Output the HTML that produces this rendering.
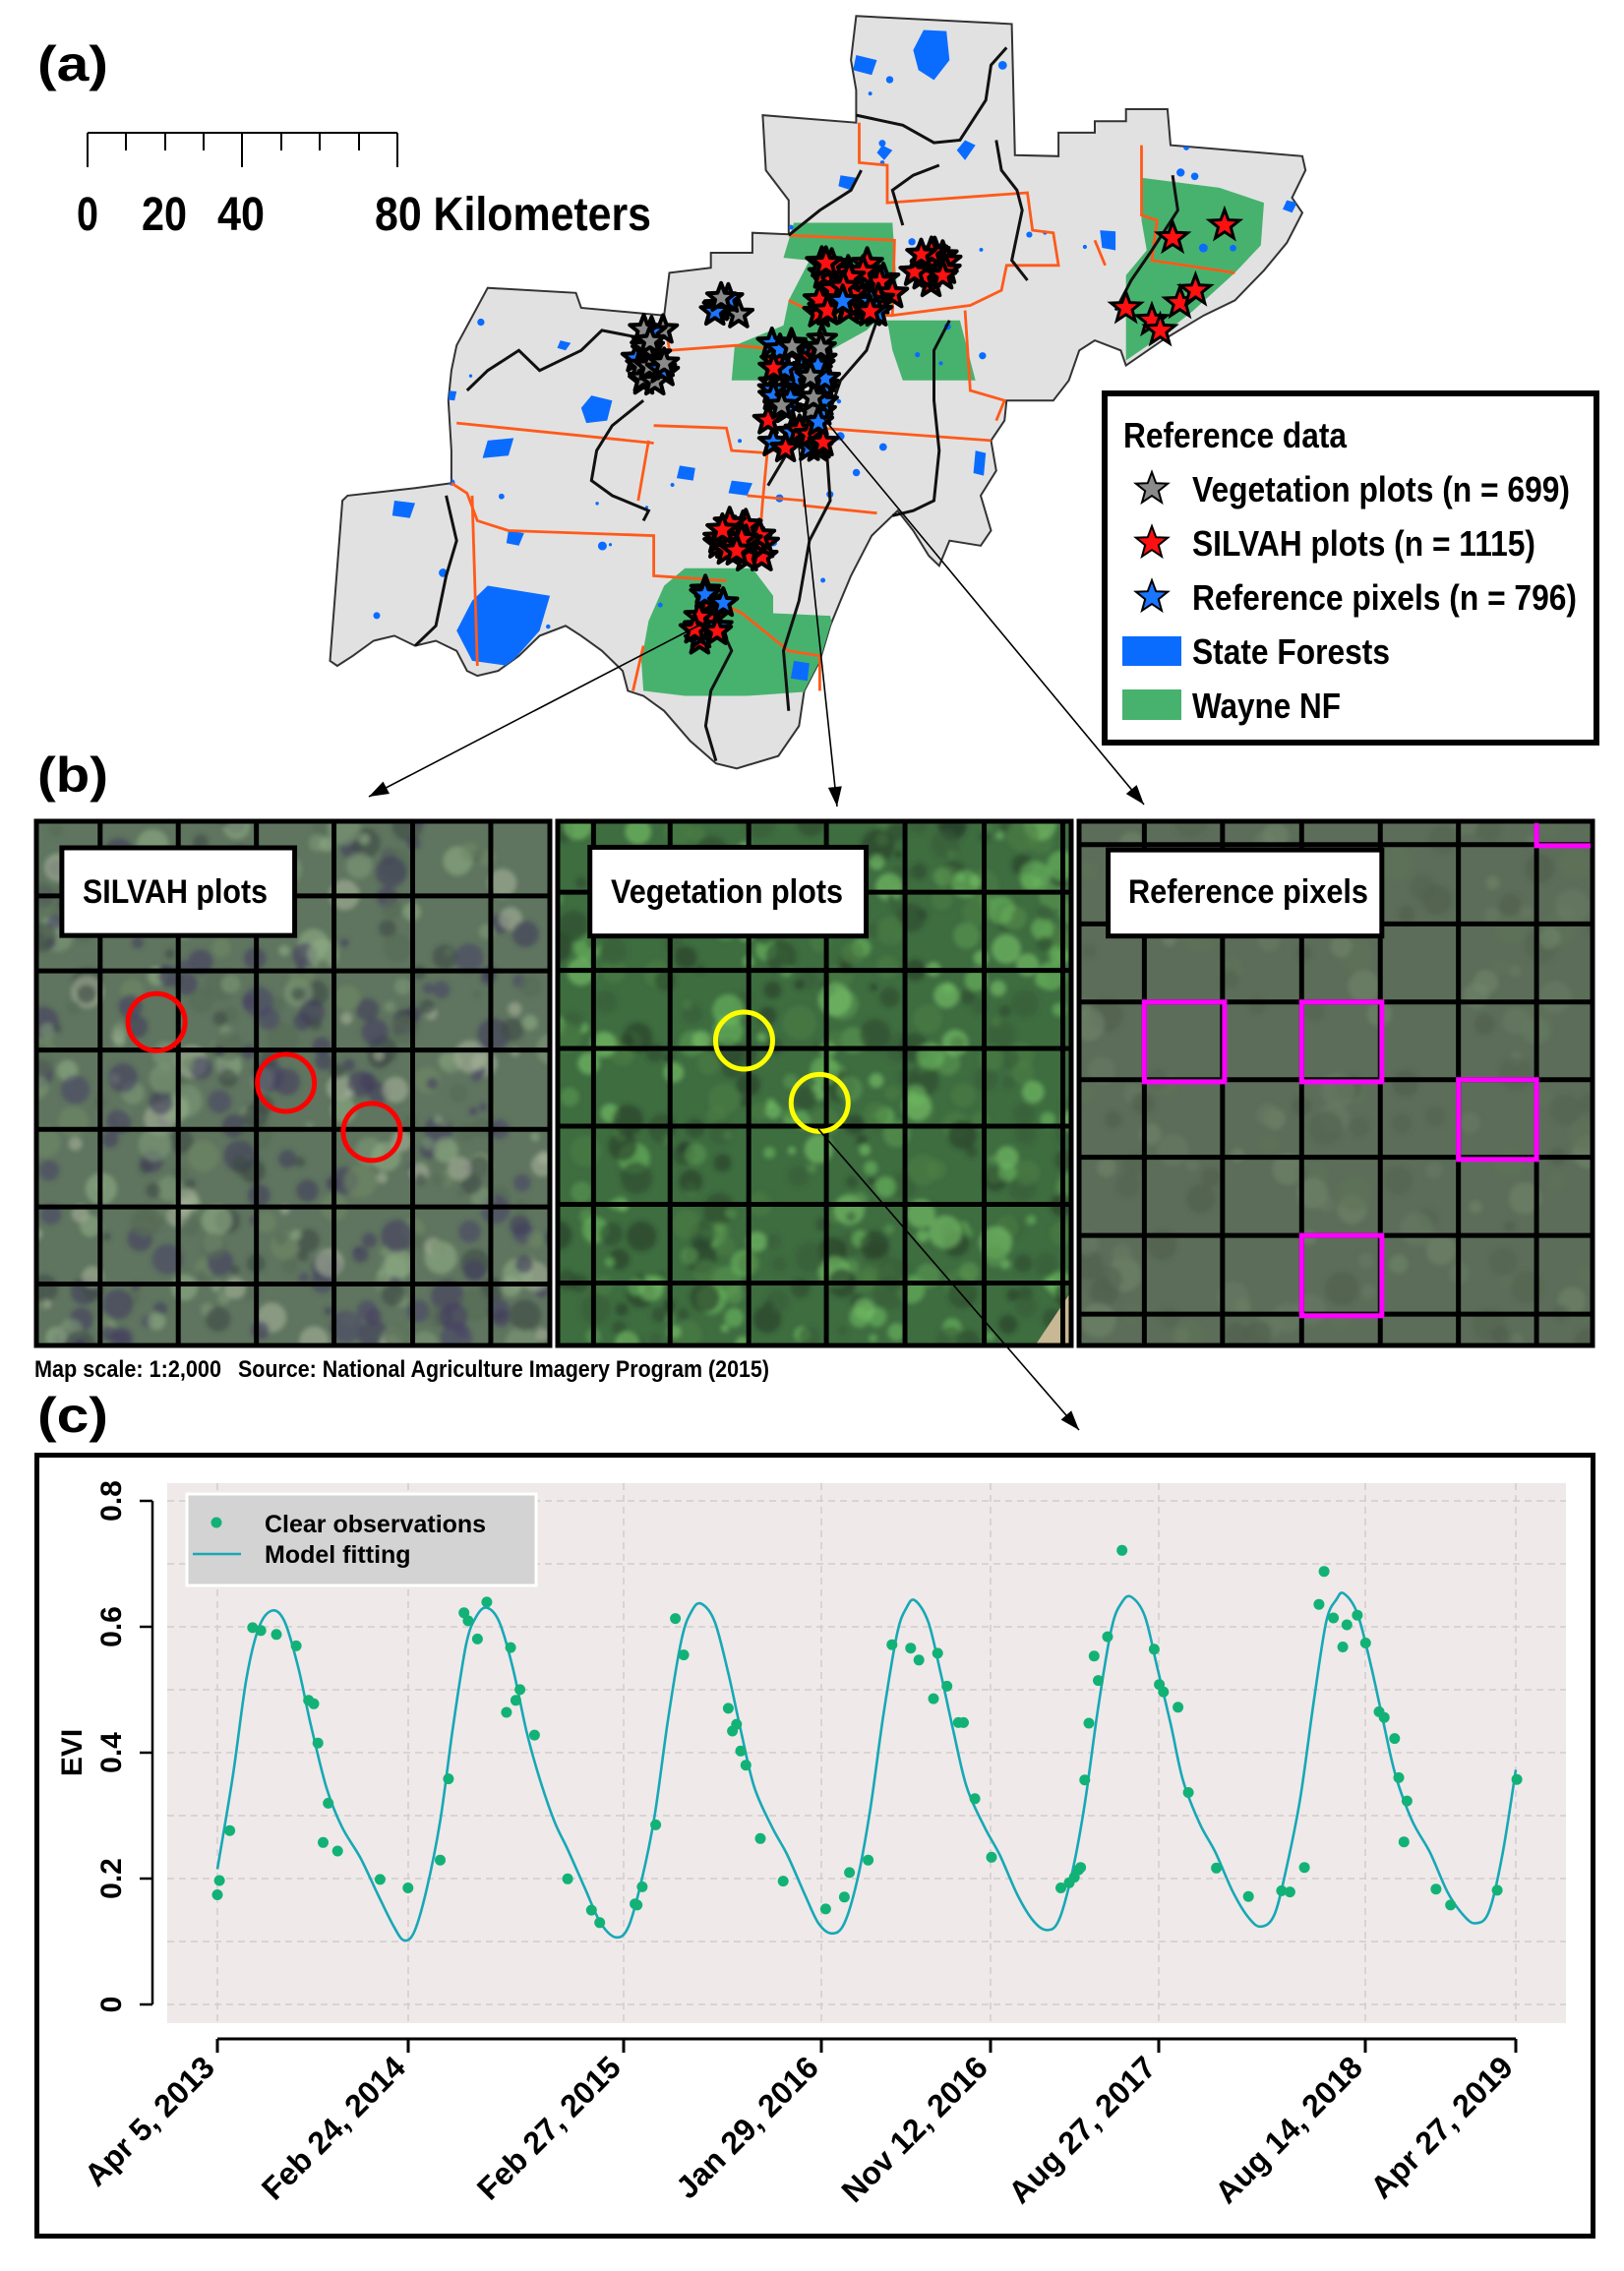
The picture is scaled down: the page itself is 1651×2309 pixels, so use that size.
<!DOCTYPE html>
<html><head><meta charset="utf-8">
<style>
html,body{margin:0;padding:0;background:#fff;}
svg{display:block;}
.nb{font-family:"Liberation Sans Narrow","Liberation Sans",sans-serif;font-weight:bold;}
.b{font-family:"Liberation Sans",sans-serif;font-weight:bold;}
</style></head>
<body>
<svg id="s" xmlns="http://www.w3.org/2000/svg" width="1651" height="2309" viewBox="0 0 1651 2309">
<defs>
<filter id="bl" x="-5%" y="-5%" width="110%" height="110%"><feGaussianBlur stdDeviation="2.5"/></filter>
<clipPath id="c1"><rect x="35" y="833" width="526" height="537"/></clipPath>
<clipPath id="c2"><rect x="565" y="833" width="526" height="537"/></clipPath>
<clipPath id="c3"><rect x="1095" y="833" width="526" height="537"/></clipPath>
<clipPath id="cmap"><polygon id="cmappoly" points="0,0"/></clipPath>
</defs>
<rect width="1651" height="2309" fill="#fff"/>

<text x="38" y="82" class="b" font-size="50" textLength="72" lengthAdjust="spacingAndGlyphs">(a)</text>
<g stroke="#000" stroke-width="2" fill="none">
<line x1="89" y1="135" x2="404" y2="135"/>
<line x1="89" y1="135" x2="89" y2="170"/><line x1="128" y1="135" x2="128" y2="153"/>
<line x1="168" y1="135" x2="168" y2="153"/><line x1="207" y1="135" x2="207" y2="153"/>
<line x1="246" y1="135" x2="246" y2="170"/><line x1="286" y1="135" x2="286" y2="153"/>
<line x1="325" y1="135" x2="325" y2="153"/><line x1="365" y1="135" x2="365" y2="153"/>
<line x1="404" y1="135" x2="404" y2="170"/>
</g>
<g class="nb" font-size="48">
<text x="78" y="234" textLength="22" lengthAdjust="spacingAndGlyphs">0</text>
<text x="144" y="234" textLength="46" lengthAdjust="spacingAndGlyphs">20</text>
<text x="221" y="234" textLength="48" lengthAdjust="spacingAndGlyphs">40</text>
<text x="381" y="234" textLength="281" lengthAdjust="spacingAndGlyphs">80 Kilometers</text>
</g>

<g id="map"></g>

<rect x="1123" y="400" width="500" height="355" fill="#fff" stroke="#000" stroke-width="6"/>
<g class="nb" font-size="36">
<text x="1142" y="455" textLength="227" lengthAdjust="spacingAndGlyphs">Reference data</text>
<text x="1212" y="510" textLength="384" lengthAdjust="spacingAndGlyphs">Vegetation plots (n = 699)</text>
<text x="1212" y="565" textLength="349" lengthAdjust="spacingAndGlyphs">SILVAH plots (n = 1115)</text>
<text x="1212" y="620" textLength="391" lengthAdjust="spacingAndGlyphs">Reference pixels (n = 796)</text>
<text x="1212" y="675" textLength="201" lengthAdjust="spacingAndGlyphs">State Forests</text>
<text x="1212" y="730" textLength="151" lengthAdjust="spacingAndGlyphs">Wayne NF</text>
</g>
<rect x="1141" y="647" width="60" height="30" fill="#0a6cff"/>
<rect x="1141" y="701" width="60" height="31" fill="#47b26e"/>
<g id="legstars"></g>

<text x="38" y="805" class="b" font-size="50" textLength="72" lengthAdjust="spacingAndGlyphs">(b)</text>
<g id="pan"></g>
<text x="35" y="1400" class="nb" font-size="24" textLength="190" lengthAdjust="spacingAndGlyphs">Map scale: 1:2,000</text>
<text x="242" y="1400" class="nb" font-size="24" textLength="540" lengthAdjust="spacingAndGlyphs">Source: National Agriculture Imagery Program (2015)</text>

<text x="38" y="1456" class="b" font-size="50" textLength="72" lengthAdjust="spacingAndGlyphs">(c)</text>
<rect x="37.5" y="1479.5" width="1582" height="794" fill="#fff" stroke="#000" stroke-width="5"/>
<rect x="170" y="1508" width="1422" height="549" fill="#efe9e9"/>
<g id="chart"></g>
</svg>
<script>
(function(){
var NS="http://www.w3.org/2000/svg";
function el(tag,attrs,parent,txt){var e=document.createElementNS(NS,tag);for(var k in attrs)e.setAttribute(k,attrs[k]);if(txt!==undefined)e.textContent=txt;parent.appendChild(e);return e;}
var seed=12345;function rnd(){seed=(seed*16807)%2147483647;return (seed-1)/2147483646;}
function star(cx,cy,R){var p=[];for(var i=0;i<10;i++){var r=i%2?R*0.42:R;var a=-Math.PI/2+i*Math.PI/5;p.push((cx+r*Math.cos(a)).toFixed(1)+','+(cy+r*Math.sin(a)).toFixed(1));}return p.join(' ');}

var map=document.getElementById('map');
var SX=1.055,SY=0.509;
function tp(str){return str.trim().split(/\s+/).map(function(s){var a=s.split(',');return (a[0]*SX).toFixed(1)+','+(a[1]*SY).toFixed(1);}).join(' ');}
var outline="825,32 975,48 978,310 1020,312 1020,265 1055,265 1055,242 1085,242 1085,218 1125,218 1128,290 1255,312 1258,340 1245,395 1255,425 1240,485 1218,540 1190,600 1160,630 1120,680 1085,730 1080,700 1055,680 1040,700 1030,760 1015,800 970,800 968,840 955,880 960,940 945,990 955,1060 945,1090 915,1080 905,1130 895,1110 880,1060 865,1020 855,1040 840,1070 820,1150 810,1200 800,1250 790,1320 775,1380 770,1450 750,1510 710,1535 690,1525 665,1480 640,1420 620,1390 605,1380 600,1340 580,1300 560,1270 545,1250 520,1270 500,1310 480,1340 460,1350 450,1340 440,1300 420,1280 400,1290 380,1270 360,1280 340,1310 325,1330 318,1320 330,1000 335,990 400,975 435,965 435,900 432,800 435,740 440,690 470,575 555,585 560,615 640,630 645,545 685,535 685,505 725,505 725,465 760,468 760,400 738,340 735,230 825,245 825,180 820,120";
document.getElementById('cmappoly').setAttribute('points',tp(outline));
el('polygon',{points:tp(outline),fill:'#e1e1e1',stroke:'#333','stroke-width':2},map);
var inner=el('g',{'clip-path':'url(#cmap)'},map);
var greens=["765,445 860,445 865,600 835,660 800,700 760,710 735,760 705,760 708,690 755,650 760,600 780,520 755,515",
"855,640 925,640 935,720 940,760 870,760 860,700",
"1100,355 1175,375 1218,405 1215,490 1190,545 1150,620 1120,670 1085,720 1085,550 1105,500 1100,440",
"660,1135 725,1135 745,1190 745,1225 800,1230 810,1320 790,1380 720,1390 660,1390 620,1380 618,1320 625,1240 640,1170"];
greens.forEach(function(g){el('polygon',{points:tp(g),fill:'#47b26e'},inner);});
var blues=["470,1170 530,1190 520,1260 490,1330 455,1320 440,1260 455,1200",
"890,60 912,62 915,120 900,160 885,140 880,100",
"570,790 590,800 585,840 565,845 560,815","470,880 495,875 490,910 465,915",
"380,1000 400,1005 395,1035 378,1030","705,960 725,965 720,990 702,985",
"655,930 670,935 668,960 652,955","930,280 940,290 930,320 922,300",
"1060,460 1075,462 1075,500 1062,495","1240,400 1250,405 1245,425 1236,418",
"940,900 950,905 948,950 938,945","765,1320 780,1325 778,1360 762,1355",
"825,110 845,120 840,150 822,140","850,290 860,300 852,320 845,305",
"810,350 825,355 820,380 808,372","490,1060 505,1065 500,1090 488,1085",
"540,680 550,685 545,700 537,695","430,780 440,782 438,800 430,798"];
blues.forEach(function(g){el('polygon',{points:tp(g),fill:'#0a6cff'},inner);});
for(var i=0;i<80;i++){var bx=(340+rnd()*900)*SX,by=(60+rnd()*1300)*SY;el('circle',{cx:bx,cy:by,r:1.5+rnd()*3,fill:'#0a6cff'},inner);}
var oranges=["440,845 630,885","630,850 700,855 705,900 740,905 790,855 955,880",
"828,245 828,325 855,330 855,405 990,385 995,460 1015,465 1020,530 970,530 965,580 935,610 860,630 862,480 760,470",
"1100,290 1100,430 1115,440 1110,520 1190,545","1055,480 1065,530",
"760,600 790,630 860,630","640,630 645,700 710,690 760,700",
"720,990 775,1000 775,1010 845,1025","435,965 450,985 460,1040 490,1060 630,1070 630,1150 700,1160",
"455,990 460,1330","700,1210 715,1225 760,1300 790,1310 790,1380",
"620,1290 610,1380","740,890 735,1000 730,1130","930,620 935,780 968,800 960,840",
"625,880 615,1000"];
oranges.forEach(function(g){el('polyline',{points:tp(g),fill:'none',stroke:'#ff5a1a','stroke-width':2.8},map);});
var blacks=["970,95 955,130 950,200 925,280 900,285 870,250 825,230",
"960,280 965,340 980,380 985,420 975,520 990,560",
"870,450 860,380 880,350 905,330",
"760,470 790,420 820,380 830,340",
"845,640 835,700 810,760 795,850 800,1000 780,1080 770,1200 755,1300 760,1420",
"780,870 760,900 740,970",
"915,640 900,700 900,800 905,900 900,1000 880,1020 860,1030",
"1130,350 1135,420 1110,500 1090,560 1075,620",
"450,780 470,740 500,700 520,740 560,700 580,660 630,680",
"620,800 590,850 575,900 570,960 590,990 625,1020 620,1040",
"430,990 440,1080 430,1150 420,1250 400,1290",
"690,1230 705,1300 685,1380 680,1450 690,1520"];
blacks.forEach(function(g){el('polyline',{points:tp(g),fill:'none',stroke:'#111','stroke-width':3},map);});

var cols={r:'#ff1010',b:'#1a75ff',g:'#8a8a8a'};
function cluster(cx,cy,sx,sy,n,palette,R){for(var i=0;i<n;i++){var x=(cx+(rnd()*2-1)*sx)*SX,y=(cy+(rnd()*2-1)*sy)*SY;var c=palette[Math.floor(rnd()*palette.length)];el('polygon',{points:star(x,y,R),fill:cols[c],stroke:'#000','stroke-width':4,'stroke-linejoin':'round'},map);}}
cluster(825,575,38,55,30,['r','r','r','r','b'],16);
cluster(895,535,18,35,16,['r','r','r'],15);
cluster(700,610,12,25,6,['b','g','b'],15);
cluster(627,710,14,55,20,['g','g','g','b'],15);
cluster(768,790,28,115,50,['b','b','b','g','r'],15);
cluster(715,1080,22,35,22,['r','r','r'],16);
cluster(685,1225,16,60,14,['r','r','r','b'],15);
[[1130,475],[1180,450],[1085,615],[1110,640],[1118,660],[1137,605],[1152,580]].forEach(function(p){el('polygon',{points:star(p[0]*SX,p[1]*SY,16),fill:'#ff1010',stroke:'#000','stroke-width':3},map);});

function arrow(x1,y1,x2,y2,g){el('line',{x1:x1,y1:y1,x2:x2,y2:y2,stroke:'#000','stroke-width':1.6},g);var a=Math.atan2(y2-y1,x2-x1),L=20,W=7;var p=[[x2,y2],[x2-L*Math.cos(a)+W*Math.sin(a),y2-L*Math.sin(a)-W*Math.cos(a)],[x2-L*Math.cos(a)-W*Math.sin(a),y2-L*Math.sin(a)+W*Math.cos(a)]];el('polygon',{points:p.map(function(q){return q[0].toFixed(1)+','+q[1].toFixed(1);}).join(' '),fill:'#000'},g);}
var svg=document.getElementById('s');
var lg=el('g',{},svg);
arrow(716,633,375,810,lg);
arrow(811,444,851,820,lg);
arrow(832,419,1163,818,lg);

var ls=document.getElementById('legstars');
[[497,'#8a8a8a'],[552,'#ff1010'],[607,'#1a75ff']].forEach(function(p){el('polygon',{points:star(1171,p[0],17),fill:p[1],stroke:'#000','stroke-width':2},ls);});

var pan=document.getElementById('pan');
var panels=[
 {x:35,clip:'c1',base:'#5f755f',pal:['#3f3a5a','#4a4566','#7f9a78','#8fae86','#566b55','#a6b29a','#6f8866','#3c4a44','#453e60'],
  vx:[0.127,0.278,0.429,0.579,0.731,0.882],hy:[0.145,0.287,0.437,0.587,0.734,0.880],
  lab:[0.053,0.503,0.054,0.22],txt:'SILVAH plots',tx:84,tw:188},
 {x:565,clip:'c2',base:'#3e6d40',pal:['#2b4a2f','#5c9a52','#6dbb5f','#243a28','#4c7f45','#365c37','#7bc66a'],
  vx:[0.073,0.221,0.373,0.523,0.675,0.828,0.98],hy:[0.138,0.286,0.434,0.581,0.729,0.878],
  lab:[0.066,0.60,0.053,0.221],txt:'Vegetation plots',tx:621,tw:236},
 {x:1095,clip:'c3',base:'#5c6e59',pal:['#52634f','#687b63','#4f5e4c','#71856b','#5d7358'],
  vx:[0.13,0.281,0.434,0.586,0.737,0.888],hy:[0.048,0.198,0.346,0.493,0.640,0.788,0.937],
  lab:[0.06,0.589,0.058,0.221],txt:'Reference pixels',tx:1147,tw:244}];
var Y0=833,W=526,H=537;
panels.forEach(function(P,pi){
 var g=el('g',{'clip-path':'url(#'+P.clip+')'},pan);
 el('rect',{x:P.x,y:Y0,width:W,height:H,fill:P.base},g);
 var tg=el('g',{filter:'url(#bl)'},g);
 var n=pi==2?160:420;
 for(var i=0;i<n;i++){el('circle',{cx:(P.x+rnd()*W).toFixed(1),cy:(Y0+rnd()*H).toFixed(1),r:(pi==2?6+rnd()*12:4+rnd()*13).toFixed(1),fill:P.pal[Math.floor(rnd()*P.pal.length)],opacity:0.6},tg);}
 if(pi==1){el('polygon',{points:(P.x+W-40)+','+(Y0+H)+' '+(P.x+W)+','+(Y0+H-60)+' '+(P.x+W)+','+(Y0+H),fill:'#c8b894'},g);}
 P.vx.forEach(function(f){el('line',{x1:P.x+f*W,y1:Y0,x2:P.x+f*W,y2:Y0+H,stroke:'#000','stroke-width':5},g);});
 P.hy.forEach(function(f){el('line',{x1:P.x,y1:Y0+f*H,x2:P.x+W,y2:Y0+f*H,stroke:'#000','stroke-width':5},g);});
 el('rect',{x:P.x+P.lab[0]*W,y:Y0+P.lab[2]*H,width:(P.lab[1]-P.lab[0])*W,height:(P.lab[3]-P.lab[2])*H,fill:'#fff',stroke:'#000','stroke-width':5},g);
 el('text',{x:P.tx,y:918,'class':'nb','font-size':34,textLength:P.tw,lengthAdjust:'spacingAndGlyphs'},g,P.txt);
 el('rect',{x:P.x+2,y:Y0+2,width:W-4,height:H-4,fill:'none',stroke:'#000','stroke-width':5},pan);
});
[[0.236,0.384],[0.486,0.499],[0.652,0.592]].forEach(function(c){el('circle',{cx:35+c[0]*W,cy:Y0+c[1]*H,r:29,fill:'none',stroke:'#ff0000','stroke-width':5},pan);});
[[0.364,0.419],[0.51,0.537]].forEach(function(c){el('circle',{cx:565+c[0]*W,cy:Y0+c[1]*H,r:29,fill:'none',stroke:'#ffff00','stroke-width':5},pan);});
[[0.13,0.285,0.346,0.497],[0.434,0.589,0.346,0.497],[0.737,0.888,0.493,0.644],[0.434,0.589,0.788,0.94]].forEach(function(q){el('rect',{x:1095+q[0]*W,y:Y0+q[2]*H,width:(q[1]-q[0])*W,height:(q[3]-q[2])*H,fill:'none',stroke:'#ff00ff','stroke-width':5},pan);});
el('polyline',{points:(1095+0.888*W)+','+(Y0+4)+' '+(1095+0.888*W)+','+(Y0+0.05*H)+' '+(1095+W-4)+','+(Y0+0.05*H),fill:'none',stroke:'#ff00ff','stroke-width':5},pan);
arrow(832,1148,1097,1454,lg);

var ch=document.getElementById('chart');
function X(z){return 221+(z-210)*1.0535;}function Yz(z){return 1526+(z-217)*0.5779;}
var ticks=[221,415,634,835,1007,1178,1388,1541];
var labels=['Apr 5, 2013','Feb 24, 2014','Feb 27, 2015','Jan 29, 2016','Nov 12, 2016','Aug 27, 2017','Aug 14, 2018','Apr 27, 2019'];
for(var v=0;v<=8;v++){var y=2038-64*v;el('line',{x1:170,y1:y,x2:1592,y2:y,stroke:'#d2cdcd','stroke-width':1.5,'stroke-dasharray':'7,5'},ch);}
ticks.forEach(function(t){el('line',{x1:t,y1:1508,x2:t,y2:2057,stroke:'#d2cdcd','stroke-width':1.5,'stroke-dasharray':'7,5'},ch);});
var cp=[[210,865],[225,700],[238,530],[250,440],[263,410],[275,430],[288,510],[300,610],[315,720],[330,790],[348,845],[365,910],[380,965],[390,990],[400,975],[412,900],[425,780],[437,620],[450,470],[460,420],[470,405],[482,430],[495,510],[508,620],[520,700],[535,780],[548,830],[565,900],[580,960],[595,985],[607,965],[620,880],[632,770],[645,600],[658,460],[668,410],[677,398],[690,430],[703,520],[715,620],[728,720],[745,790],[760,840],[777,910],[790,960],[803,978],[815,960],[828,880],[840,760],[853,590],[866,450],[875,405],[883,392],[896,430],[908,520],[920,620],[933,720],[950,790],[965,840],[982,910],[997,955],[1010,972],[1022,955],[1035,870],[1047,750],[1060,580],[1073,440],[1083,395],[1092,386],[1105,420],[1117,510],[1130,610],[1142,710],[1158,785],[1173,835],[1190,905],[1205,950],[1217,966],[1230,945],[1242,860],[1255,740],[1268,570],[1280,430],[1290,390],[1297,380],[1310,415],[1323,505],[1335,605],[1347,700],[1363,780],[1380,835],[1397,905],[1412,945],[1424,960],[1437,940],[1450,840],[1463,690]];
var P=cp.map(function(p){return [X(p[0]),Yz(p[1])];});
var d='M'+P[0][0].toFixed(1)+','+P[0][1].toFixed(1);
for(var i=0;i<P.length-1;i++){var p0=P[Math.max(0,i-1)],p1=P[i],p2=P[i+1],p3=P[Math.min(P.length-1,i+2)];
 var c1=[p1[0]+(p2[0]-p0[0])/6,p1[1]+(p2[1]-p0[1])/6],c2=[p2[0]-(p3[0]-p1[0])/6,p2[1]-(p3[1]-p1[1])/6];
 d+=' C'+c1[0].toFixed(1)+','+c1[1].toFixed(1)+' '+c2[0].toFixed(1)+','+c2[1].toFixed(1)+' '+p2[0].toFixed(1)+','+p2[1].toFixed(1);}
el('path',{d:d,fill:'none',stroke:'#17a8b5','stroke-width':2.6},ch);
var pts=[[210,910],[212,885],[222,797],[244,440],[252,445],[267,452],[286,472],[298,568],[303,574],[307,643],[317,749],[312,818],[326,833],[367,883],[394,898],[425,849],
[433,706],[448,414],[452,428],[461,460],[470,395],[493,475],[502,549],[498,568],[489,589],[516,629],[548,882],[571,937],[579,959],[613,926],[615,928],[620,896],[633,787],[652,424],[660,488],
[703,582],[707,622],[711,610],[715,657],[720,682],[734,811],[756,886],[797,935],[815,914],[820,871],[838,849],[861,470],[879,476],[887,497],[905,485],[914,543],[901,565],[925,607],[930,607],[941,741],[957,844],
[1024,898],[1032,889],[1037,879],[1041,866],[1043,862],[1047,708],[1051,608],[1056,490],[1060,533],[1069,456],[1083,304],[1114,478],[1119,540],[1123,553],[1137,580],[1147,730],[1174,863],[1205,913],
[1237,903],[1245,905],[1259,862],[1273,399],[1278,341],[1287,423],[1296,474],[1300,435],[1310,418],[1318,467],[1331,588],[1336,598],[1346,635],[1350,704],[1358,745],[1355,817],[1386,900],[1400,928],[1445,902],[1464,707]];
pts.forEach(function(p){el('circle',{cx:X(p[0]).toFixed(1),cy:Yz(p[1]).toFixed(1),r:5.5,fill:'#12b276'},ch);});
el('rect',{x:190,y:1519,width:355,height:93,fill:'#d3d3d3',stroke:'#fff','stroke-width':3},ch);
el('circle',{cx:220,cy:1548,r:5.5,fill:'#12b276'},ch);
el('line',{x1:196,y1:1580,x2:245,y2:1580,stroke:'#17a8b5','stroke-width':2.6},ch);
el('text',{x:269,y:1558,'class':'b','font-size':25},ch,'Clear observations');
el('text',{x:269,y:1589,'class':'b','font-size':25},ch,'Model fitting');
el('line',{x1:155,y1:1526,x2:155,y2:2038,stroke:'#000','stroke-width':2.5},ch);
['0','0.2','0.4','0.6','0.8'].forEach(function(t,i){var y=2038-128*i;el('line',{x1:142,y1:y,x2:155,y2:y,stroke:'#000','stroke-width':2.5},ch);
 el('text',{x:0,y:0,'class':'b','font-size':30,'text-anchor':'middle',transform:'translate(123,'+y+') rotate(-90)'},ch,t);});
el('text',{x:0,y:0,'class':'b','font-size':30,'text-anchor':'middle',transform:'translate(83,1782) rotate(-90)'},ch,'EVI');
el('line',{x1:221,y1:2073,x2:1541,y2:2073,stroke:'#000','stroke-width':3},ch);
ticks.forEach(function(t,i){el('line',{x1:t,y1:2073,x2:t,y2:2087,stroke:'#000','stroke-width':3},ch);
 el('text',{x:0,y:0,'class':'b','font-size':32,'text-anchor':'end',transform:'translate('+(t-1)+',2104) rotate(-45)'},ch,labels[i]);});
})();
</script>
</body></html>
